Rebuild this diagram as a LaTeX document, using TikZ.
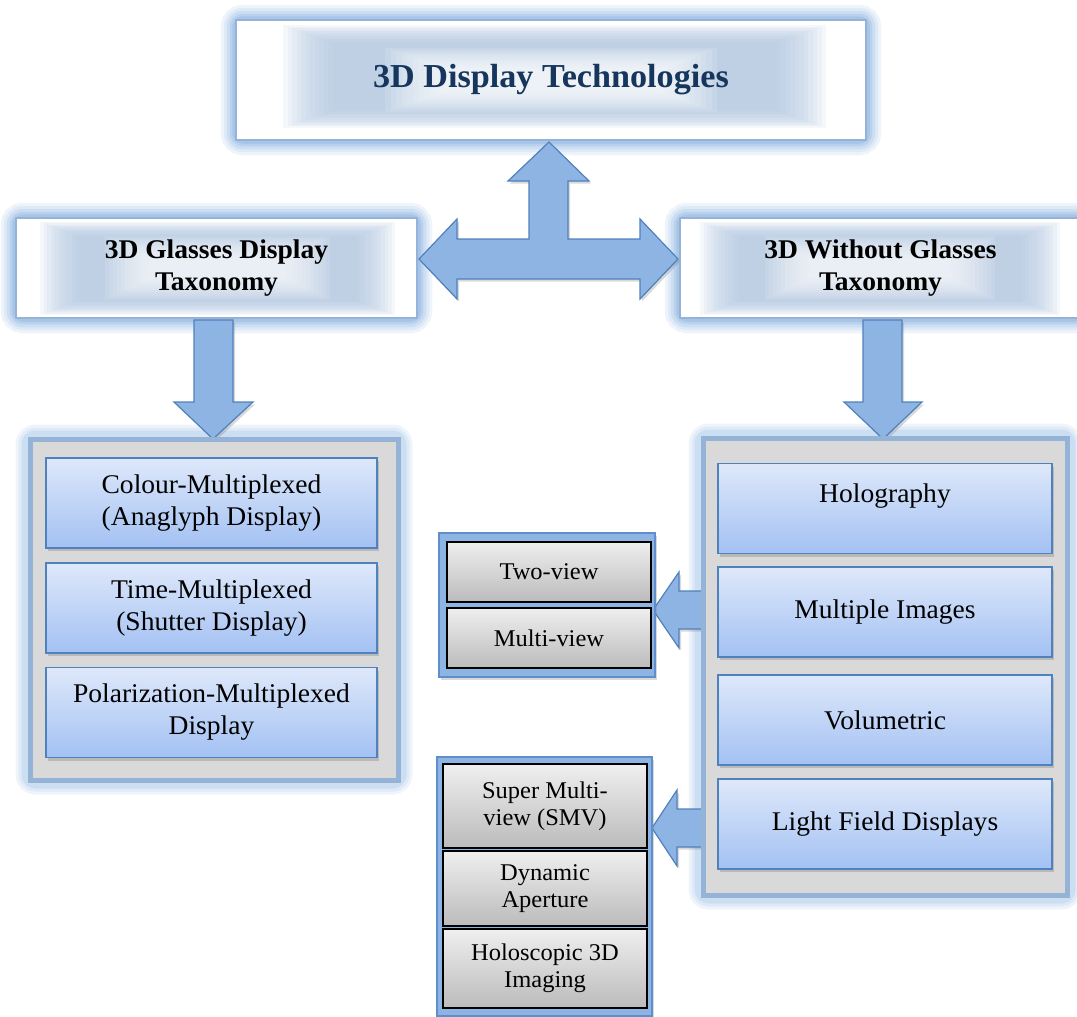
\documentclass[tikz,border=0pt]{standalone}
\usepackage{fontspec}
\setmainfont{Liberation Serif}[FakeStretch=1.02]
\usetikzlibrary{shadows,calc}
\pgfdeclarelayer{glow}
\pgfdeclarelayer{mid}
\pgfsetlayers{glow,mid,main}
\definecolor{arrowfill}{HTML}{8EB4E3}
\definecolor{arrowline}{HTML}{4F81BD}
\definecolor{glowc}{HTML}{8DB4E2}
\definecolor{frame}{HTML}{95B3D7}
\definecolor{panelgray}{HTML}{D9D9D9}
\definecolor{childtop}{HTML}{DEE8FA}
\definecolor{childbot}{HTML}{A3C1F3}
\definecolor{graytop}{HTML}{EFEFEF}
\definecolor{graybot}{HTML}{BBBBBB}
\definecolor{band}{HTML}{B4C9E3}
\definecolor{titlec}{HTML}{17365D}
\definecolor{smallframe}{HTML}{5F8FCB}
\newcommand\softrect[8]{\foreach \k in {0,...,11}{\fill[#7,opacity=#8] ({#1+\k*#5},{#2+\k*#6}) rectangle ({#3-\k*#5},{#4-\k*#6});}}
\begin{document}
\begin{tikzpicture}[x=1pt,y=-1pt,
  header/.style={draw=frame, line width=2.5pt, inner sep=0pt, minimum height=100pt, align=center, font=\bfseries\fontsize{27}{32}\selectfont},
  panel/.style={draw=frame, line width=5pt, fill=panelgray, inner sep=0pt},
  childbox/.style={draw=arrowline, line width=1.2pt, top color=childtop, bottom color=childbot, minimum height=90pt, inner sep=0pt, align=center, font=\fontsize{27}{32}\selectfont, drop shadow={shadow xshift=1.5pt, shadow yshift=-3pt, opacity=0.35}},
  smallpanel/.style={draw=smallframe, line width=1.5pt, fill=arrowfill, inner sep=0pt, drop shadow={shadow xshift=2pt, shadow yshift=-3pt, opacity=0.3}},
  smallbox/.style={draw=black, line width=1.2pt, top color=graytop, bottom color=graybot, minimum width=204pt, inner sep=0pt, align=center, font=\fontsize{24}{27}\selectfont},
  blockarrow/.style={draw=arrowline, line width=1.2pt, fill=arrowfill, line join=miter, drop shadow={shadow xshift=2pt, shadow yshift=-2.5pt, opacity=0.3}},
  txt/.style={font=\fontsize{27}{32}\selectfont, align=center}
]
\useasboundingbox (0,0) rectangle (1077,1017);

% ---------- headers ----------
\node[header, minimum width=630pt, minimum height=120pt, text=titlec, font=\bfseries\fontsize{33.5}{38}\selectfont] (top) at (551,80) {3D Display Technologies};
\node[header, minimum width=401pt] (gl) at (216.5,268) {3D Glasses Display\\Taxonomy};
\node[header, minimum width=401pt] (ngl) at (880.5,268) {3D Without Glasses\\Taxonomy};

\begin{pgfonlayer}{glow}
  \foreach \n in {top,gl,ngl}{
    \foreach \w/\o in {28/0.14,22/0.17,16/0.22,10/0.3,5/0.4}
      \draw[glowc, line width=\w pt, opacity=\o, rounded corners=8pt] (\n.south west) rectangle (\n.north east);
    \fill[white] (\n.south west) rectangle (\n.north east);
  }
\end{pgfonlayer}

\begin{pgfonlayer}{mid}
  \softrect{283}{25}{826}{128}{4.5}{1.6}{band}{0.13}
  \softrect{385}{48}{717}{112}{5.5}{2}{white}{0.12}
  \softrect{40}{222}{395}{315}{3.5}{1.3}{band}{0.13}
  \softrect{105}{236}{330}{300}{4}{2}{white}{0.1}
  \softrect{700}{222}{1060}{315}{3.5}{1.3}{band}{0.13}
  \softrect{765}{236}{995}{300}{4}{2}{white}{0.1}
\end{pgfonlayer}

% ---------- block arrows ----------
\path[blockarrow] (549,142) -- (589,181) -- (568,181) -- (568,239) -- (640,239) -- (640,219) -- (678,259) -- (640,299) -- (640,279) -- (457,279) -- (457,299) -- (419,259) -- (457,219) -- (457,239) -- (529,239) -- (529,181) -- (508,181) -- cycle;
\path[blockarrow] (194,320) -- (233,320) -- (233,402) -- (253,402) -- (213,439) -- (174,402) -- (194,402) -- cycle;
\path[blockarrow] (863,320) -- (902,320) -- (902,402) -- (922,402) -- (883,439) -- (844,402) -- (863,402) -- cycle;
\path[blockarrow] (706,591) -- (679,591) -- (679,572) -- (653,610) -- (679,648) -- (679,629) -- (706,629) -- cycle;
\path[blockarrow] (704,809) -- (677,809) -- (677,790) -- (652,828) -- (677,866) -- (677,847) -- (704,847) -- cycle;

% ---------- panels ----------
\node[panel, minimum width=368pt, minimum height=341pt] (lp) at (214,609.5) {};
\node[panel, minimum width=364pt, minimum height=457pt] (rp) at (885,666.5) {};
\begin{pgfonlayer}{glow}
  \foreach \n in {lp,rp}{
    \foreach \w/\o in {24/0.14,18/0.17,12/0.22}
      \draw[glowc, line width=\w pt, opacity=\o, rounded corners=8pt] (\n.south west) rectangle (\n.north east);
  }
\end{pgfonlayer}

\node[childbox, minimum width=331pt] (cm) at (211.5,503) {Colour-Multiplexed\\(Anaglyph Display)};
\node[childbox, minimum width=331pt] (tm) at (211.5,608) {Time-Multiplexed\\(Shutter Display)};
\node[childbox, minimum width=331pt] (pm) at (211.5,712.5) {Polarization-Multiplexed\\Display};

\node[childbox, minimum width=334pt, label={[txt, yshift=12pt]center:Holography}] (holo) at (885,508.5) {};
\node[childbox, minimum width=334pt] (mi) at (885,612) {Multiple Images};
\node[childbox, minimum width=334pt] (vol) at (885,720) {Volumetric};
\node[childbox, minimum width=334pt] (lf) at (885,824) {Light Field Displays};

% ---------- small panels ----------
\node[smallpanel, minimum width=216pt, minimum height=144pt] (sp1) at (547,605) {};
\node[smallbox, minimum height=60pt] (two) at (549,572) {Two-view};
\node[smallbox, minimum height=60pt] (multi) at (549,638) {Multi-view};

\node[smallpanel, minimum width=215pt, minimum height=259pt] (sp2) at (544.5,886.5) {};
\node[smallbox, minimum height=84pt] (smv) at (545,806) {Super Multi-\\view (SMV)};
\node[smallbox, minimum height=75pt] (dyn) at (545,888.5) {Dynamic\\Aperture};
\node[smallbox, minimum height=79pt] (holo3d) at (545,968.5) {Holoscopic 3D\\Imaging};
\end{tikzpicture}
\end{document}
